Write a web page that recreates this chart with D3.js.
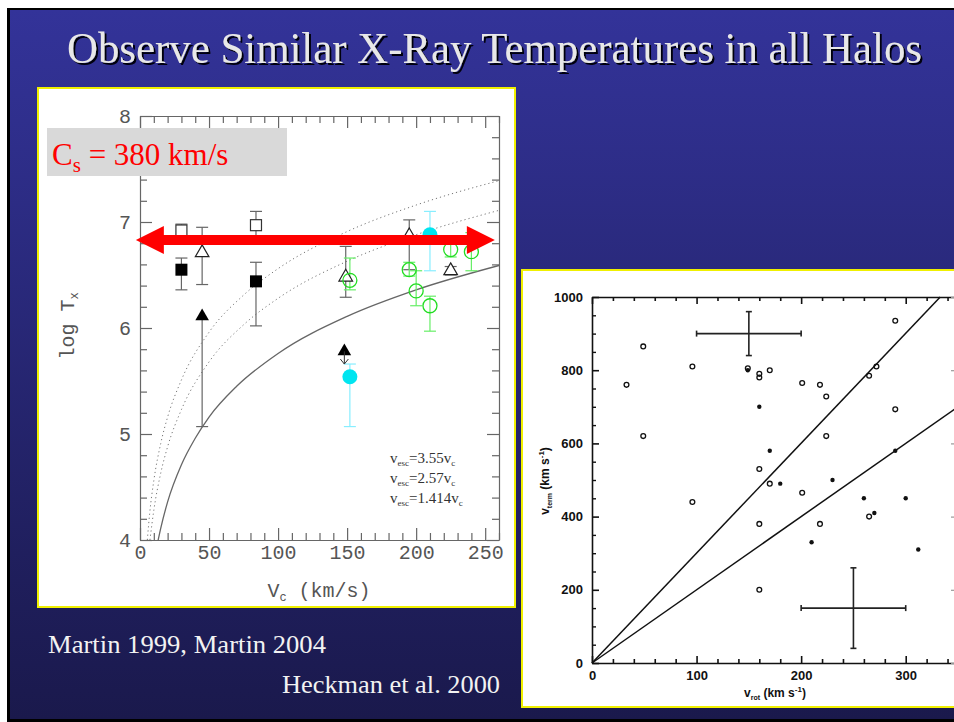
<!DOCTYPE html>
<html>
<head>
<meta charset="utf-8">
<script src="https://cdn.jsdelivr.net/npm/d3@7"></script>
<style>
  body { margin: 0; background: #fff; }
  svg { display: block; }
</style>
</head>
<body>
<script>
// ---- left plot: log Tx vs Vc (Martin 1999, 2004) ----
const xTicksL = [0, 50, 100, 150, 200, 250];
const yTicksL = [4, 5, 6, 7, 8];

const openSquares = [
  { v: 30, t: 6.92, lo: 6.86, hi: 6.98 },
  { v: 84, t: 6.97, lo: 6.85, hi: 7.10 }
];
const filledSquares = [
  { v: 30, t: 6.55, lo: 6.36, hi: 6.66 },
  { v: 84, t: 6.44, lo: 6.02, hi: 6.62 }
];
const openTriangles = [
  { v: 45, t: 6.71, lo: 6.41, hi: 6.95 },
  { v: 149, t: 6.48, lo: 6.29, hi: 6.77 },
  { v: 195, t: 6.87, lo: 6.55, hi: 7.02 },
  { v: 225, t: 6.54, lo: 6.50, hi: 6.58 }
];
const filledTriangles = [
  { v: 45, t: 6.11, lo: 5.07, hi: 6.11, limit: false },
  { v: 148, t: 5.78, lo: 5.78, hi: 5.78, limit: true }
];
const greenCircles = [
  { v: 152, t: 6.45, lo: 6.36, hi: 6.66 },
  { v: 195, t: 6.55, lo: 6.49, hi: 6.62 },
  { v: 200, t: 6.35, lo: 6.21, hi: 6.54 },
  { v: 210, t: 6.21, lo: 5.97, hi: 6.30 },
  { v: 225, t: 6.74, lo: 6.67, hi: 6.80 },
  { v: 240, t: 6.72, lo: 6.54, hi: 6.90 }
];
const cyanCircles = [
  { v: 152, t: 5.54, lo: 5.07, hi: 5.66 },
  { v: 210, t: 6.88, lo: 6.54, hi: 7.10 }
];

// model curves: [Vc, log Tx]
const curve355 = [[5.3, 4.0], [7, 4.25], [10, 4.56], [15, 4.91], [20, 5.16], [30, 5.51], [50, 5.96], [75, 6.31], [100, 6.56], [150, 6.91], [200, 7.16], [260, 7.39]];
const curve257 = [[7.2, 4.0], [10, 4.28], [15, 4.63], [20, 4.88], [30, 5.23], [50, 5.68], [75, 6.03], [100, 6.28], [150, 6.63], [200, 6.88], [260, 7.11]];
const curve1414 = [[13, 3.99], [15, 4.11], [20, 4.36], [30, 4.71], [40, 4.96], [50, 5.16], [70, 5.45], [100, 5.76], [150, 6.11], [200, 6.36], [260, 6.59]];
const curveLabels = ['3.55', '2.57', '1.414'];

const soundSpeedLevel = 6.83;   // red arrow, Cs = 380 km/s

// ---- right plot: v_term vs v_rot (Heckman et al. 2000) ----
const xTicksR = [0, 100, 200, 300];
const yTicksR = [0, 200, 400, 600, 800, 1000];
const openPts = [
  [33, 760], [49, 865], [49, 620], [96, 810], [96, 440], [149, 805], [160, 790], [160, 780],
  [170, 800], [201, 765], [218, 760], [224, 728], [224, 620], [160, 530], [170, 490], [201, 465],
  [265, 785], [272, 810], [290, 935], [290, 693], [265, 400], [160, 380], [218, 380], [160, 200]
];
const filledPts = [
  [149, 800], [160, 700], [170, 580], [180, 490], [230, 500], [290, 580], [260, 450], [300, 450],
  [270, 410], [210, 330], [312, 310]
];
const refLines = [
  [[0, 0], [333, 1000]],
  [[0, 0], [350, 700]]
];
const errCrosses = [
  { x: 150, y: 900, dx: 50, dy: 60 },
  { x: 250, y: 150, dx: 50, dy: 110 }
];

const W = 954, H = 722;
const svg = d3.select('body').append('svg').attr('width', W).attr('height', H);

// slide background
const defs = svg.append('defs');
const grad = defs.append('linearGradient').attr('id', 'bg').attr('x1', 0).attr('y1', 0).attr('x2', 0).attr('y2', 1);
grad.append('stop').attr('offset', '0%').attr('stop-color', '#333399');
grad.append('stop').attr('offset', '100%').attr('stop-color', '#1a194c');
defs.append('filter').attr('id', 'shadow').attr('x', '-5%').attr('y', '-20%').attr('width', '110%').attr('height', '140%')
  .append('feDropShadow').attr('dx', 2).attr('dy', 2).attr('stdDeviation', 0.6).attr('flood-color', '#050510').attr('flood-opacity', 1);
svg.append('rect').attr('x', 7).attr('y', 8).attr('width', W - 7).attr('height', H - 8).attr('fill', '#000');
svg.append('rect').attr('x', 10).attr('y', 10).attr('width', W - 10).attr('height', H - 13).attr('fill', 'url(#bg)');

// title
svg.append('text').attr('x', 67).attr('y', 63)
  .attr('font-family', '"Liberation Serif", serif').attr('font-size', 44)
  .attr('textLength', 855).attr('lengthAdjust', 'spacingAndGlyphs')
  .attr('fill', '#e8e8e8').attr('filter', 'url(#shadow)')
  .text('Observe Similar X-Ray Temperatures in all Halos');

// credits
svg.append('text').attr('x', 48).attr('y', 653)
  .attr('font-family', '"Liberation Serif", serif').attr('font-size', 25)
  .attr('textLength', 278).attr('lengthAdjust', 'spacingAndGlyphs')
  .attr('fill', '#f2f2f2').text('Martin 1999, Martin 2004');
svg.append('text').attr('x', 282).attr('y', 693)
  .attr('font-family', '"Liberation Serif", serif').attr('font-size', 25)
  .attr('textLength', 218).attr('lengthAdjust', 'spacingAndGlyphs')
  .attr('fill', '#f2f2f2').text('Heckman et al. 2000');

// ===================== left panel =====================
svg.append('rect').attr('x', 38).attr('y', 88).attr('width', 477).attr('height', 519)
  .attr('fill', '#fff').attr('stroke', '#f0f000').attr('stroke-width', 2);

const xL = d3.scaleLinear().domain([0, 260]).range([140, 499]);
const yL = d3.scaleLinear().domain([4, 8]).range([540, 116]);
const gL = svg.append('g');

defs.append('clipPath').attr('id', 'clipL').append('rect')
  .attr('x', xL(0)).attr('y', yL(8)).attr('width', xL(260) - xL(0)).attr('height', yL(4) - yL(8));

const monoL = '"Liberation Mono", "DejaVu Sans Mono", monospace';
const axisColL = '#666';

function styleAxis(sel, col, w) {
  sel.select('.domain').attr('stroke', col).attr('stroke-width', w);
  sel.selectAll('.tick line').attr('stroke', col).attr('stroke-width', w);
}

const xMinorL = d3.range(0, 261, 10).filter(v => v % 50 !== 0);
const yMinorL = d3.range(4, 8.01, 0.2).filter(v => Math.abs(v - Math.round(v)) > 0.01);

// major axes
gL.append('g').attr('transform', `translate(0,${yL(4)})`)
  .call(d3.axisBottom(xL).tickValues(xTicksL).tickSizeInner(-12).tickSizeOuter(0).tickPadding(5))
  .call(s => styleAxis(s, axisColL, 1.2))
  .call(s => s.selectAll('text').attr('font-family', monoL).attr('font-size', 20).attr('fill', '#555'));
gL.append('g').attr('transform', `translate(${xL(0)},0)`)
  .call(d3.axisLeft(yL).tickValues(yTicksL).tickSizeInner(-12).tickSizeOuter(0).tickPadding(9).tickFormat(d3.format('d')))
  .call(s => styleAxis(s, axisColL, 1.2))
  .call(s => s.selectAll('text').attr('font-family', monoL).attr('font-size', 20).attr('fill', '#555'));
gL.append('g').attr('transform', `translate(0,${yL(8)})`)
  .call(d3.axisTop(xL).tickValues(xTicksL).tickSizeInner(-12).tickSizeOuter(0).tickFormat(''))
  .call(s => styleAxis(s, axisColL, 1.2));
gL.append('g').attr('transform', `translate(${xL(260)},0)`)
  .call(d3.axisRight(yL).tickValues(yTicksL).tickSizeInner(-12).tickSizeOuter(0).tickFormat(''))
  .call(s => styleAxis(s, axisColL, 1.2));
// minor ticks
[[d3.axisBottom, yL(4)], [d3.axisTop, yL(8)]].forEach(([ax, ty]) => {
  gL.append('g').attr('transform', `translate(0,${ty})`)
    .call(ax(xL).tickValues(xMinorL).tickSizeInner(-7).tickSizeOuter(0).tickFormat(''))
    .call(s => { styleAxis(s, axisColL, 1.2); s.select('.domain').remove(); });
});
[[d3.axisLeft, xL(0)], [d3.axisRight, xL(260)]].forEach(([ax, tx]) => {
  gL.append('g').attr('transform', `translate(${tx},0)`)
    .call(ax(yL).tickValues(yMinorL).tickSizeInner(-7).tickSizeOuter(0).tickFormat(''))
    .call(s => { styleAxis(s, axisColL, 1.2); s.select('.domain').remove(); });
});

// axis titles
const xt = gL.append('text').attr('x', 319).attr('y', 597).attr('text-anchor', 'middle')
  .attr('font-family', monoL).attr('font-size', 20).attr('fill', '#555');
xt.append('tspan').text('V');
xt.append('tspan').attr('font-size', 12).attr('dy', 4).text('c');
xt.append('tspan').attr('dy', -4).text(' (km/s)');
const yt = gL.append('text').attr('transform', 'translate(74,326) rotate(-90)').attr('text-anchor', 'middle')
  .attr('font-family', monoL).attr('font-size', 20).attr('fill', '#555');
yt.append('tspan').text('log T');
yt.append('tspan').attr('font-size', 12).attr('dy', 4).text('x');

// model curves
const lineL = d3.line().x(d => xL(d[0])).y(d => yL(d[1])).curve(d3.curveMonotoneX);
const gc = gL.append('g').attr('clip-path', 'url(#clipL)').attr('fill', 'none');
gc.append('path').attr('d', lineL(curve355)).attr('stroke', '#777').attr('stroke-width', 1).attr('stroke-dasharray', '1.2,3');
gc.append('path').attr('d', lineL(curve257)).attr('stroke', '#777').attr('stroke-width', 1).attr('stroke-dasharray', '1.2,3');
gc.append('path').attr('d', lineL(curve1414)).attr('stroke', '#666').attr('stroke-width', 1.3);

// curve labels
curveLabels.forEach((k, i) => {
  const t = gL.append('text').attr('x', 390).attr('y', 463 + i * 20)
    .attr('font-family', '"Liberation Serif", serif').attr('font-size', 15).attr('fill', '#333');
  t.append('tspan').text('v');
  t.append('tspan').attr('font-size', 9).attr('dy', 3).text('esc');
  t.append('tspan').attr('dy', -3).text('=' + k + 'v');
  t.append('tspan').attr('font-size', 9).attr('dy', 3).text('c');
});

// error bars
function errBars(data, col, cap) {
  const g = gL.append('g').attr('stroke', col).attr('stroke-width', 1.2);
  data.forEach(d => {
    if (d.lo === d.hi) return;
    g.append('line').attr('x1', xL(d.v)).attr('x2', xL(d.v)).attr('y1', yL(d.lo)).attr('y2', yL(d.hi));
    g.append('line').attr('x1', xL(d.v) - cap).attr('x2', xL(d.v) + cap).attr('y1', yL(d.lo)).attr('y2', yL(d.lo));
    if (d.limit === undefined) {
      g.append('line').attr('x1', xL(d.v) - cap).attr('x2', xL(d.v) + cap).attr('y1', yL(d.hi)).attr('y2', yL(d.hi));
    }
  });
}
errBars(openSquares, '#666', 6);
errBars(filledSquares, '#666', 6);
errBars(openTriangles, '#666', 6);
errBars(filledTriangles, '#666', 6);
errBars(greenCircles, '#66ee66', 6);
errBars(cyanCircles, '#88eeff', 6);

// markers
const tri = d3.symbol(d3.symbolTriangle, 80);
gL.selectAll('.osq').data(openSquares).join('rect')
  .attr('x', d => xL(d.v) - 5.5).attr('y', d => yL(d.t) - 5.5).attr('width', 11).attr('height', 11)
  .attr('fill', '#fff').attr('stroke', '#333').attr('stroke-width', 1.2);
gL.selectAll('.fsq').data(filledSquares).join('rect')
  .attr('x', d => xL(d.v) - 6).attr('y', d => yL(d.t) - 6).attr('width', 12).attr('height', 12)
  .attr('fill', '#000');
gL.selectAll('.otr').data(openTriangles).join('path')
  .attr('d', tri).attr('transform', d => `translate(${xL(d.v)},${yL(d.t)})`)
  .attr('fill', '#fff').attr('stroke', '#222').attr('stroke-width', 1.2);
gL.selectAll('.ftr').data(filledTriangles).join('path')
  .attr('d', tri).attr('transform', d => `translate(${xL(d.v)},${yL(d.t)})`)
  .attr('fill', '#000');
// upper-limit arrow
filledTriangles.filter(d => d.limit).forEach(d => {
  const x = xL(d.v), y0 = yL(d.t), y1 = yL(d.t - 0.12);
  gL.append('path').attr('d', `M${x},${y0}V${y1}M${x - 4},${y1 - 5}L${x},${y1}L${x + 4},${y1 - 5}`)
    .attr('fill', 'none').attr('stroke', '#333').attr('stroke-width', 1);
});
gL.selectAll('.gci').data(greenCircles).join('circle')
  .attr('cx', d => xL(d.v)).attr('cy', d => yL(d.t)).attr('r', 7)
  .attr('fill', 'none').attr('stroke', '#22dd22').attr('stroke-width', 1.3);
gL.selectAll('.cci').data(cyanCircles).join('circle')
  .attr('cx', d => xL(d.v)).attr('cy', d => yL(d.t)).attr('r', 7.5)
  .attr('fill', '#00e5f0');

// red double arrow
{
  const xa = xL(-3), xb = xL(257), y = yL(soundSpeedLevel), hl = 28, hh = 14, sh = 5;
  gL.append('path')
    .attr('d', `M${xa},${y}L${xa + hl},${y - hh}L${xa + hl},${y - sh}L${xb - hl},${y - sh}L${xb - hl},${y - hh}` +
      `L${xb},${y}L${xb - hl},${y + hh}L${xb - hl},${y + sh}L${xa + hl},${y + sh}L${xa + hl},${y + hh}Z`)
    .attr('fill', '#ff0000');
}

// Cs box
svg.append('rect').attr('x', 47).attr('y', 128).attr('width', 240).attr('height', 48).attr('fill', '#d9d9d9');
{
  const t = svg.append('text').attr('x', 52).attr('y', 165)
    .attr('font-family', '"Liberation Serif", serif').attr('font-size', 31).attr('fill', '#ff0000');
  t.append('tspan').text('C');
  t.append('tspan').attr('font-size', 21).attr('dy', 7).text('s');
  t.append('tspan').attr('dy', -7).text(' = 380 km/s');
}

// ===================== right panel =====================
svg.append('rect').attr('x', 522).attr('y', 270).attr('width', 450).attr('height', 437)
  .attr('fill', '#fff').attr('stroke', '#f0f000').attr('stroke-width', 2);

const xR = d3.scaleLinear().domain([0, 350]).range([592, 958]);
const yR = d3.scaleLinear().domain([0, 1000]).range([663, 297]);
const gR = svg.append('g');
const sansB = '"Liberation Sans", Arial, sans-serif';
const axisColR = '#111';

const xMinorR = d3.range(0, 351, 20).filter(v => v % 100 !== 0);
const yMinorR = d3.range(0, 1001, 50).filter(v => v % 200 !== 0);

gR.append('g').attr('transform', `translate(0,${yR(0)})`)
  .call(d3.axisBottom(xR).tickValues(xTicksR).tickSizeInner(-7).tickSizeOuter(0).tickPadding(8).tickFormat(d3.format('d')))
  .call(s => styleAxis(s, axisColR, 1.6))
  .call(s => s.selectAll('text').attr('font-family', sansB).attr('font-weight', 'bold').attr('font-size', 13).attr('fill', '#111'));
gR.append('g').attr('transform', `translate(${xR(0)},0)`)
  .call(d3.axisLeft(yR).tickValues(yTicksR).tickSizeInner(-7).tickSizeOuter(0).tickPadding(9).tickFormat(d3.format('d')))
  .call(s => styleAxis(s, axisColR, 1.6))
  .call(s => s.selectAll('text').attr('font-family', sansB).attr('font-weight', 'bold').attr('font-size', 13).attr('fill', '#111'));
gR.append('g').attr('transform', `translate(0,${yR(1000)})`)
  .call(d3.axisTop(xR).tickValues(xTicksR).tickSizeInner(-7).tickSizeOuter(0).tickFormat(''))
  .call(s => styleAxis(s, axisColR, 1.6));
gR.append('g').attr('transform', `translate(${xR(350)},0)`)
  .call(d3.axisRight(yR).tickValues(yTicksR).tickSizeInner(-7).tickSizeOuter(0).tickFormat(''))
  .call(s => styleAxis(s, '#999', 1.2));
[[d3.axisBottom, yR(0)], [d3.axisTop, yR(1000)]].forEach(([ax, ty]) => {
  gR.append('g').attr('transform', `translate(0,${ty})`)
    .call(ax(xR).tickValues(xMinorR).tickSizeInner(-4).tickSizeOuter(0).tickFormat(''))
    .call(s => { styleAxis(s, axisColR, 1.6); s.select('.domain').remove(); });
});
[[d3.axisLeft, xR(0), axisColR], [d3.axisRight, xR(350), '#999']].forEach(([ax, tx, c]) => {
  gR.append('g').attr('transform', `translate(${tx},0)`)
    .call(ax(yR).tickValues(yMinorR).tickSizeInner(-4).tickSizeOuter(0).tickFormat(''))
    .call(s => { styleAxis(s, c, 1.4); s.select('.domain').remove(); });
});

// axis titles
{
  const t = gR.append('text').attr('x', 775).attr('y', 697).attr('text-anchor', 'middle')
    .attr('font-family', sansB).attr('font-weight', 'bold').attr('font-size', 12).attr('fill', '#111');
  t.append('tspan').text('v');
  t.append('tspan').attr('font-size', 7).attr('dy', 3).text('rot');
  t.append('tspan').attr('dy', -3).text('  (km s');
  t.append('tspan').attr('font-size', 8).attr('dy', -5).text('-1');
  t.append('tspan').attr('dy', 5).text(')');
  const u = gR.append('text').attr('transform', 'translate(549,481) rotate(-90)').attr('text-anchor', 'middle')
    .attr('font-family', sansB).attr('font-weight', 'bold').attr('font-size', 12).attr('fill', '#111');
  u.append('tspan').text('v');
  u.append('tspan').attr('font-size', 7).attr('dy', 3).text('term');
  u.append('tspan').attr('dy', -3).text('  (km s');
  u.append('tspan').attr('font-size', 8).attr('dy', -5).text('-1');
  u.append('tspan').attr('dy', 5).text(')');
}

// reference lines
const lineR = d3.line().x(d => xR(d[0])).y(d => yR(d[1]));
gR.selectAll('.ref').data(refLines).join('path')
  .attr('d', lineR).attr('fill', 'none').attr('stroke', '#111').attr('stroke-width', 1.5);

// error crosses
errCrosses.forEach(c => {
  const g = gR.append('g').attr('stroke', '#222').attr('stroke-width', 1.6);
  g.append('line').attr('x1', xR(c.x - c.dx)).attr('x2', xR(c.x + c.dx)).attr('y1', yR(c.y)).attr('y2', yR(c.y));
  g.append('line').attr('x1', xR(c.x)).attr('x2', xR(c.x)).attr('y1', yR(c.y - c.dy)).attr('y2', yR(c.y + c.dy));
  [c.x - c.dx, c.x + c.dx].forEach(v => g.append('line').attr('x1', xR(v)).attr('x2', xR(v)).attr('y1', yR(c.y) - 3).attr('y2', yR(c.y) + 3));
  [c.y - c.dy, c.y + c.dy].forEach(v => g.append('line').attr('x1', xR(c.x) - 3).attr('x2', xR(c.x) + 3).attr('y1', yR(v)).attr('y2', yR(v)));
});

// points
gR.selectAll('.op').data(openPts).join('circle')
  .attr('cx', d => xR(d[0])).attr('cy', d => yR(d[1])).attr('r', 2.4)
  .attr('fill', 'none').attr('stroke', '#111').attr('stroke-width', 1.3);
gR.selectAll('.fp').data(filledPts).join('circle')
  .attr('cx', d => xR(d[0])).attr('cy', d => yR(d[1])).attr('r', 2.2)
  .attr('fill', '#111');
</script>
</body>
</html>
